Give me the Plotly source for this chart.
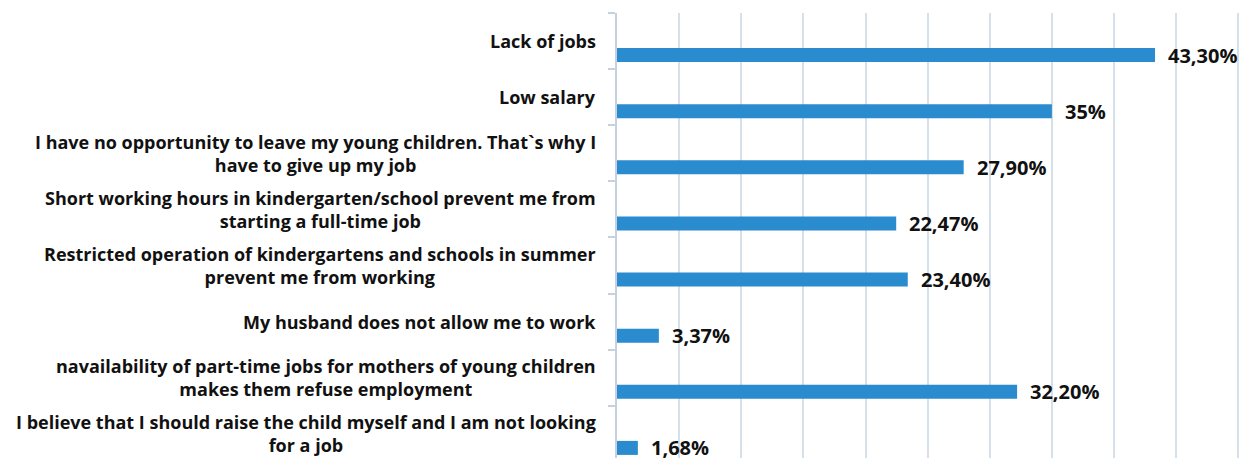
import plotly.graph_objects as go

# Reasons for not working, top to bottom as listed in the survey
categories = [
    "Lack of jobs",
    "Low salary",
    "I have no opportunity to leave my young children. That`s why I<br>have to give up my job",
    "Short working hours in kindergarten/school prevent me from<br>starting a full-time job",
    "Restricted operation of kindergartens and schools in summer<br>prevent me from working",
    "My husband does not allow me to work",
    "navailability of part-time jobs for mothers of young children<br>makes them refuse employment",
    "I believe that I should raise the child myself and I am not looking<br>for a job",
]
values = [43.30, 35.0, 27.90, 22.47, 23.40, 3.37, 32.20, 1.68]
value_labels = ["43,30%", "35%", "27,90%", "22,47%", "23,40%", "3,37%", "32,20%", "1,68%"]

BAR_COLOR = "#2b8bcf"
GRID_COLOR = "#d6e0eb"
AXIS_COLOR = "#c5d1de"
FONT = "Open Sans"

fig = go.Figure()
fig.add_trace(go.Bar(
    x=values,
    y=categories,
    orientation="h",
    offset=0.125,
    width=0.25,
    marker=dict(color=BAR_COLOR, line=dict(width=0)),
    hoverinfo="skip",
))

annotations = []
# Category labels, centred lines, right-aligned against the axis
for cat in categories:
    annotations.append(dict(
        x=0, xref="paper", xanchor="right", xshift=-19,
        y=cat, yref="y", yanchor="middle",
        text=cat, showarrow=False, align="center",
        font=dict(family=FONT, size=18, color="#111111", weight="bold"),
    ))
# Value labels just past the end of each bar
for cat, v, lab in zip(categories, values, value_labels):
    annotations.append(dict(
        x=v, xref="x", xanchor="left", xshift=11,
        y=cat, yref="y", yanchor="middle", yshift=-14,
        text=lab, showarrow=False,
        font=dict(family=FONT, size=20, color="#111111", weight="bold"),
    ))

fig.update_layout(
    width=1251,
    height=458,
    margin=dict(l=617, r=9, t=13, b=0),
    paper_bgcolor="white",
    plot_bgcolor="white",
    showlegend=False,
    annotations=annotations,
    xaxis=dict(
        range=[0, 50.3],
        tick0=0,
        dtick=5,
        showgrid=True,
        gridcolor=GRID_COLOR,
        gridwidth=1.5,
        showticklabels=False,
        zeroline=False,
        showline=False,
        fixedrange=True,
    ),
    yaxis=dict(
        type="category",
        categoryorder="array",
        categoryarray=categories,
        range=[7.43, -0.5],
        showticklabels=False,
        showgrid=False,
        showline=True,
        linecolor=AXIS_COLOR,
        linewidth=1.5,
        ticks="outside",
        tickson="boundaries",
        ticklen=7,
        tickcolor=AXIS_COLOR,
        tickwidth=1.5,
        fixedrange=True,
    ),
)

fig.write_html("out.html")
